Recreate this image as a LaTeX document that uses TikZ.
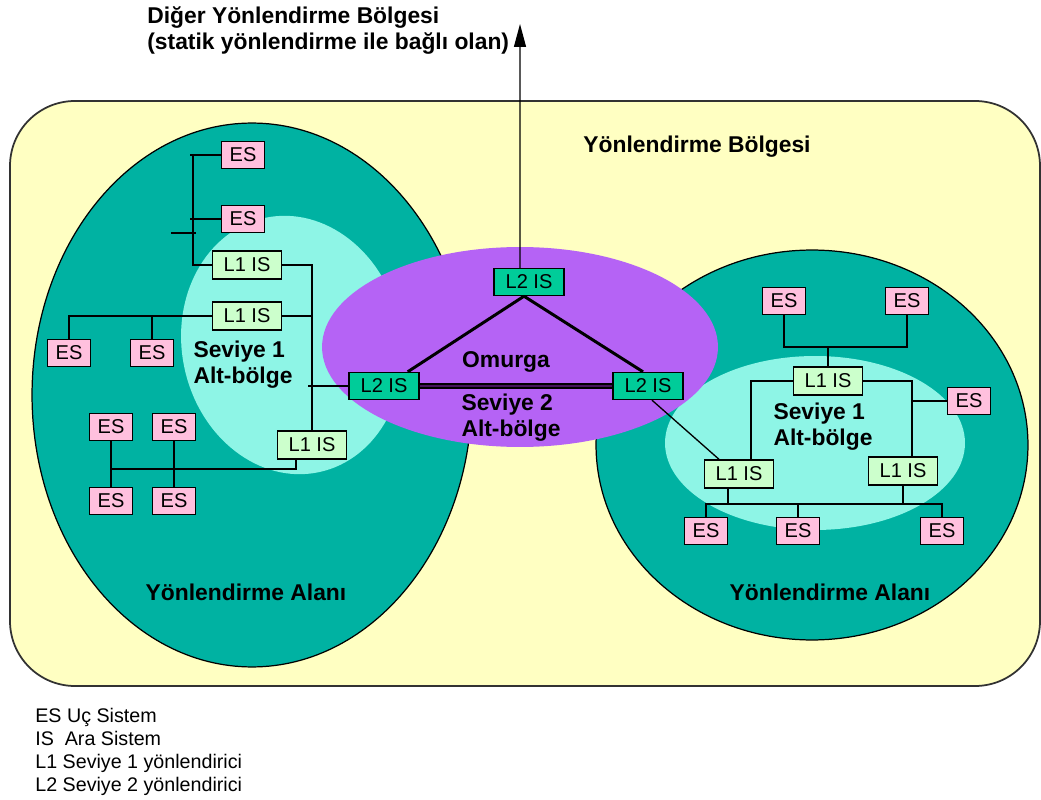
\documentclass[tikz,border=0pt]{standalone}
\usepackage{fontspec}
\setmainfont{Liberation Sans}
\usetikzlibrary{arrows.meta}

\definecolor{zonebg}{RGB}{255,255,194}
\definecolor{areateal}{RGB}{0,178,162}
\definecolor{subcyan}{RGB}{142,245,230}
\definecolor{coreviolet}{RGB}{181,99,245}
\definecolor{espink}{RGB}{255,192,222}
\definecolor{lonegreen}{RGB}{204,255,204}
\definecolor{ltwogreen}{RGB}{0,204,153}
\definecolor{edgegray}{RGB}{50,50,50}
\definecolor{innerline}{RGB}{70,20,90}

\tikzset{
  devbox/.style={draw=black, line width=0.8pt, inner sep=0pt,
    font=\fontsize{11.4}{13}\selectfont},
  esbox/.style={devbox, fill=espink, minimum width=0.86cm, minimum height=0.54cm},
  lonebox/.style={devbox, fill=lonegreen, minimum width=1.38cm, minimum height=0.56cm},
  ltwobox/.style={devbox, fill=ltwogreen, minimum width=1.4cm, minimum height=0.54cm},
  wire/.style={draw=black, line width=0.75pt},
  trunk/.style={draw=black, line width=1.7pt},
  backbone/.style={draw=black, line width=1.05pt, double=innerline, double distance=0.8pt},
  biglabel/.style={font=\bfseries\fontsize{13}{14.8}\selectfont, align=left, inner sep=0pt},
  legend/.style={font=\fontsize{11.2}{13.2}\selectfont, align=left, inner sep=0pt}
}

\begin{document}
\begin{tikzpicture}[x=0.02cm, y=-0.02cm]
  \useasboundingbox (0,0) rectangle (1041,800);
  \fill[white] (0,0) rectangle (1041,800);

  % routing domain
  \draw[fill=zonebg, draw=edgegray, line width=1pt, rounded corners=1.3cm]
    (10,101) rectangle (1040,686);

  % routing areas
  \draw[fill=areateal, draw=black, line width=0.7pt] (252,395) ellipse [x radius=4.4cm, y radius=5.44cm];
  \draw[fill=areateal, draw=black, line width=0.7pt] (812,445) ellipse [x radius=4.32cm, y radius=3.9cm];

  % level 1 subdomains
  \fill[subcyan, rotate around={12:(292,345)}] (292,345) ellipse [x radius=2.2cm, y radius=2.6cm];
  \fill[subcyan] (815,443) ellipse [x radius=3.0cm, y radius=1.74cm];

  % level 2 backbone
  \fill[coreviolet] (520,347) ellipse [x radius=3.96cm, y radius=2.0cm];

  % ---- left area devices
  \node[esbox] (ESa) at (243,155) {ES};
  \node[esbox] (ESb) at (243,219) {ES};
  \node[lonebox] (LIa) at (247,265) {L1 IS};
  \node[lonebox] (LIb) at (247,316) {L1 IS};
  \node[esbox] (ESc) at (69,353) {ES};
  \node[esbox] (ESd) at (152,353) {ES};
  \node[lonebox] (LIc) at (312,445) {L1 IS};
  \node[esbox] (ESe) at (111,427) {ES};
  \node[esbox] (ESf) at (174,427) {ES};
  \node[esbox] (ESg) at (111,501) {ES};
  \node[esbox] (ESh) at (174,501) {ES};

  % ---- backbone routers
  \node[ltwobox] (LTt) at (529,282) {L2 IS};
  \node[ltwobox] (LTl) at (384,386) {L2 IS};
  \node[ltwobox] (LTr) at (648,386) {L2 IS};

  % ---- right area devices
  \node[esbox] (ESi) at (784,301) {ES};
  \node[esbox] (ESj) at (907,301) {ES};
  \node[lonebox] (LId) at (828,381) {L1 IS};
  \node[esbox] (ESk) at (969,401) {ES};
  \node[lonebox] (LIe) at (739,474) {L1 IS};
  \node[lonebox] (LIf) at (903,471) {L1 IS};
  \node[esbox] (ESl) at (706,531) {ES};
  \node[esbox] (ESm) at (798,531) {ES};
  \node[esbox] (ESn) at (942,531) {ES};

  % ---- left area wiring
  \coordinate (lbus) at (193,265);
  \coordinate (stubL) at (171,233);
  \coordinate (stubR) at (196,233);
  \draw[wire] (ESa.west) -- (190,155);
  \draw[wire] (ESa.west -| lbus) -- (lbus) -- (LIa.west);
  \draw[wire] (ESb.west) -- (190,219);
  \draw[wire] (stubL) -- (stubR);
  \draw[wire] (LIa.east) -| (LIc.north);
  \draw[wire] (LIb.east) -- (LIb.east -| LIc.north);
  \coordinate (ltstub) at (308,386);
  \draw[wire] (ltstub) -- (LTl.west);
  \draw[wire] (LIb.west) -| (ESc.north);
  \draw[wire] (ESd.north) -- (ESd.north |- LIb.west);
  \coordinate (lbot) at (296,469);
  \draw[wire] (ESe.south) -- (ESg.north);
  \draw[wire] (ESf.south) -- (ESh.north);
  \draw[wire] (ESe.south |- lbot) -- (lbot) -- (lbot |- LIc.south);

  % ---- backbone wiring
  \coordinate (uptip) at (520,24);
  \draw[wire, -{Triangle[length=0.46cm, width=0.24cm]}] ([xshift=-0.18cm]LTt.north) -- (uptip);
  \draw[trunk] ([xshift=-0.1cm]LTt.south) -- ([xshift=-0.24cm]LTl.north east);
  \draw[trunk] ([xshift=-0.1cm]LTt.south) -- ([xshift=-0.1cm]LTr.north);
  \draw[backbone] (LTl.east) -- (LTr.west);
  \draw[wire] ([xshift=0.08cm]LTr.south) -- ([xshift=-0.4cm]LIe.north);

  % ---- right area wiring
  \coordinate (rtop) at (830,347);
  \coordinate (rvbus) at ([xshift=0.18cm]LIf.north);
  \draw[wire] (ESi.south) |- (ESj.south |- rtop) -- (ESj.south);
  \draw[wire] (LId.north) -- (LId.north |- rtop);
  \draw[wire] (LId.west) -| ([xshift=0.24cm]LIe.north);
  \draw[wire] (LId.east) -| (rvbus);
  \draw[wire] (ESk.west) -- (ESk.west -| rvbus);
  \coordinate (rbot) at (830,504);
  \draw[wire] (ESl.north) |- (ESn.north |- rbot) -- (ESn.north);
  \draw[wire] (ESm.north) -- (ESm.north |- rbot);
  \draw[wire] ([xshift=-0.22cm]LIe.south) -- ([xshift=-0.22cm]LIe.south |- rbot);
  \draw[wire] (LIf.south) -- (LIf.south |- rbot);

  % ---- labels
  \node[biglabel] (domain) at (697,147) {Yönlendirme Bölgesi};
  \node[biglabel] (subl) at (243,365) {Seviye 1\\Alt-bölge};
  \node[biglabel] (subr) at (823,427) {Seviye 1\\Alt-bölge};
  \node[biglabel] (core) at (506,362) {Omurga};
  \node[biglabel] (subc) at (511,418) {Seviye 2\\Alt-bölge};
  \node[biglabel] (areal) at (246,592) {Yönlendirme Alanı};
  \node[biglabel] (arear) at (830,592) {Yönlendirme Alanı};
  \node[biglabel, anchor=west] (other) at (147,31)
    {Diğer Yönlendirme Bölgesi\\(statik yönlendirme ile bağlı olan)};

  % ---- legend
  \node[legend, anchor=west] (key) at (35,752)
    {ES Uç Sistem\\IS\ \ Ara Sistem\\L1 Seviye 1 yönlendirici\\L2 Seviye 2 yönlendirici};
\end{tikzpicture}
\end{document}
